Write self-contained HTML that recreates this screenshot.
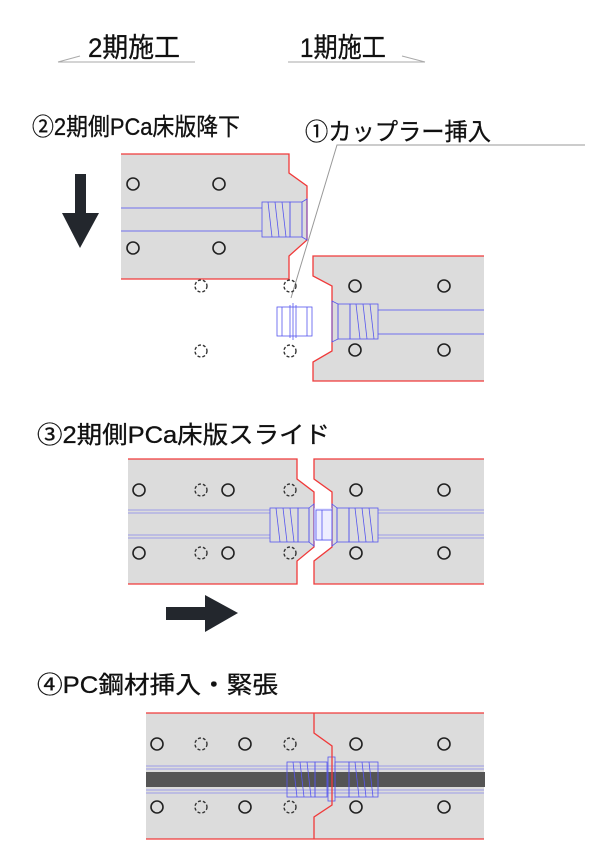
<!DOCTYPE html>
<html><head><meta charset="utf-8"><style>
html,body{margin:0;padding:0;background:#fff}
svg{display:block}
text{font-family:"Liberation Sans","Noto Sans CJK JP",sans-serif;fill:#111}
</style></head><body>
<svg width="600" height="866" viewBox="0 0 600 866" xmlns="http://www.w3.org/2000/svg">
<!-- headers -->
<text x="88" y="57" font-size="27" textLength="92" lengthAdjust="spacingAndGlyphs" stroke="#111" stroke-width="0.3">2期施工</text>
<text x="300" y="57" font-size="27" textLength="86" lengthAdjust="spacingAndGlyphs" stroke="#111" stroke-width="0.3">1期施工</text>
<polyline points="58,62 80,56" stroke="#aaa" fill="none"/>
<line x1="58" y1="62" x2="195" y2="62" stroke="#aaa"/>
<line x1="288" y1="62" x2="425" y2="62" stroke="#aaa"/>
<polyline points="402,56 425,62" stroke="#aaa" fill="none"/>

<text x="32" y="135" font-size="24" textLength="208" lengthAdjust="spacingAndGlyphs" stroke="#111" stroke-width="0.3">②2期側PCa床版降下</text>
<text x="305" y="140" font-size="24" textLength="186" lengthAdjust="spacingAndGlyphs" stroke="#111" stroke-width="0.3">①カップラー挿入</text>
<polyline points="291,298 337,145 585,145" stroke="#999" fill="none"/>

<!-- down arrow -->
<rect x="75" y="174" width="11" height="40" fill="#23272d"/>
<polygon points="62,213 99,213 80,248" fill="#23272d"/>

<!-- section 1 left slab -->
<polygon points="121,154 289,154 289,173 307,186 307,240 289,256 289,279 121,279" fill="#dcdcdc"/>
<polyline points="121,154 289,154 289,173 307,186 307,240 289,256 289,279 121,279" fill="none" stroke="#f03a3a" stroke-width="1.3"/>
<line x1="121" y1="208" x2="262" y2="208" stroke="#7070ee"/>
<line x1="121" y1="231" x2="262" y2="231" stroke="#7070ee"/>
<g fill="none" stroke="#222" stroke-width="1.6">
<circle cx="133" cy="184" r="6"/><circle cx="219" cy="184" r="6"/>
<circle cx="133" cy="248" r="6"/><circle cx="219" cy="248" r="6"/>
</g>
<g fill="none" stroke="#5555ee" stroke-width="0.8">
<rect x="262" y="202" width="28" height="35"/><rect x="290" y="202" width="12" height="35"/>
<polygon points="302,202 307,199 307,240 302,237"/>
<line x1="268" y1="202" x2="272" y2="237"/><line x1="275" y1="202" x2="279" y2="237"/><line x1="282" y1="202" x2="286" y2="237"/>
</g>
<!-- dashed circles -->
<g fill="none" stroke="#333" stroke-width="1.4" stroke-dasharray="3,2">
<circle cx="201" cy="286" r="6"/><circle cx="290" cy="286" r="6"/>
<circle cx="201" cy="351" r="6"/><circle cx="290" cy="351" r="6"/>
</g>
<!-- loose coupler -->
<g fill="none" stroke="#5555ee" stroke-width="0.8">
<rect x="277" y="307" width="35" height="29"/>
<line x1="282" y1="307" x2="282" y2="336"/><line x1="290" y1="305" x2="290" y2="338"/>
<line x1="293" y1="303" x2="293" y2="340"/><line x1="296" y1="305" x2="296" y2="338"/>
<line x1="307" y1="307" x2="307" y2="336"/>
</g>
<!-- section 1 right slab -->
<polygon points="313,256 484,256 484,381 313,381 313,362 332,351 332,286 313,276" fill="#dcdcdc"/>
<polyline points="484,256 313,256 313,276 332,286 332,351 313,362 313,381 484,381" fill="none" stroke="#f03a3a" stroke-width="1.3"/>
<line x1="378" y1="310" x2="484" y2="310" stroke="#7070ee"/>
<line x1="378" y1="334" x2="484" y2="334" stroke="#7070ee"/>
<g fill="none" stroke="#222" stroke-width="1.6">
<circle cx="355" cy="286" r="6"/><circle cx="444" cy="286" r="6"/>
<circle cx="355" cy="350" r="6"/><circle cx="444" cy="350" r="6"/>
</g>
<g fill="none" stroke="#5555ee" stroke-width="0.8">
<polygon points="332,301 338,304 338,339 332,342"/>
<rect x="338" y="304" width="12" height="35"/><rect x="350" y="304" width="28" height="35"/>
<line x1="356" y1="304" x2="360" y2="339"/><line x1="363" y1="304" x2="367" y2="339"/><line x1="370" y1="304" x2="374" y2="339"/>
</g>

<!-- section 2 -->
<text x="37" y="443" font-size="24" textLength="293" lengthAdjust="spacingAndGlyphs" stroke="#111" stroke-width="0.3">③2期側PCa床版スライド</text>
<polygon points="128,459 297,459 297,479 314,492 314,547 297,561 297,584 128,584" fill="#dcdcdc"/>
<polyline points="128,459 297,459 297,479 314,492 314,547 297,561 297,584 128,584" fill="none" stroke="#f03a3a" stroke-width="1.3"/>
<polygon points="314,459 484,459 484,584 314,584 314,561 332,547 332,492 314,479" fill="#dcdcdc"/>
<polyline points="484,459 314,459 314,479 332,492 332,547 314,561 314,584 484,584" fill="none" stroke="#f03a3a" stroke-width="1.3"/>
<g stroke="#8888ee" stroke-width="0.7">
<line x1="128" y1="510" x2="270" y2="510"/><line x1="128" y1="513" x2="270" y2="513"/>
<line x1="128" y1="535" x2="270" y2="535"/><line x1="128" y1="538" x2="270" y2="538"/>
<line x1="378" y1="510" x2="484" y2="510"/><line x1="378" y1="513" x2="484" y2="513"/>
<line x1="378" y1="535" x2="484" y2="535"/><line x1="378" y1="538" x2="484" y2="538"/>
</g>
<rect x="314" y="508" width="18" height="33" fill="#eeeeff"/>
<g fill="none" stroke="#5555ee" stroke-width="0.8">
<rect x="270" y="508" width="28" height="34"/><rect x="298" y="508" width="11" height="34"/>
<polygon points="309,508 314,504 314,546 309,542"/>
<line x1="276" y1="508" x2="280" y2="542"/><line x1="283" y1="508" x2="287" y2="542"/><line x1="290" y1="508" x2="294" y2="542"/>
<rect x="316" y="510" width="16" height="30"/><line x1="322" y1="510" x2="322" y2="540"/>
<polygon points="332,504 337,508 337,542 332,546"/>
<rect x="337" y="508" width="12" height="34"/><rect x="349" y="508" width="29" height="34"/>
<line x1="355" y1="508" x2="359" y2="542"/><line x1="362" y1="508" x2="366" y2="542"/><line x1="369" y1="508" x2="373" y2="542"/>
</g>
<g fill="none" stroke="#222" stroke-width="1.6">
<circle cx="139" cy="490" r="6"/><circle cx="228" cy="490" r="6"/><circle cx="356" cy="490" r="6"/><circle cx="444" cy="490" r="6"/>
<circle cx="139" cy="553" r="6"/><circle cx="228" cy="553" r="6"/><circle cx="356" cy="553" r="6"/><circle cx="444" cy="553" r="6"/>
</g>
<g fill="none" stroke="#333" stroke-width="1.4" stroke-dasharray="3,2">
<circle cx="201" cy="490" r="6"/><circle cx="290" cy="490" r="6"/>
<circle cx="201" cy="553" r="6"/><circle cx="290" cy="553" r="6"/>
</g>
<!-- right arrow -->
<rect x="166" y="607" width="41" height="13" fill="#23272d"/>
<polygon points="205,595 205,632 238,613" fill="#23272d"/>

<!-- section 3 -->
<text x="37" y="693" font-size="24" textLength="241" lengthAdjust="spacingAndGlyphs" stroke="#111" stroke-width="0.3">④PC鋼材挿入・緊張</text>
<rect x="146" y="713" width="338" height="126" fill="#dcdcdc"/>
<line x1="146" y1="713" x2="484" y2="713" stroke="#f03a3a" stroke-width="1.3"/>
<line x1="146" y1="839" x2="484" y2="839" stroke="#f03a3a" stroke-width="1.3"/>
<g stroke="#8888ee" stroke-width="0.7">
<line x1="146" y1="766" x2="484" y2="766"/><line x1="146" y1="769" x2="484" y2="769"/>
<line x1="146" y1="790" x2="484" y2="790"/><line x1="146" y1="793" x2="484" y2="793"/>
</g>
<rect x="146" y="772" width="339" height="15" fill="#555"/>
<g fill="none" stroke="#5555ee" stroke-width="0.8">
<rect x="287" y="762" width="28" height="35"/><rect x="315" y="762" width="12" height="35"/>
<line x1="293" y1="762" x2="297" y2="797"/><line x1="300" y1="762" x2="304" y2="797"/><line x1="307" y1="762" x2="311" y2="797"/>
<rect x="328" y="757" width="7" height="44"/>
<rect x="335" y="762" width="14" height="35"/><rect x="349" y="762" width="29" height="35"/>
<line x1="355" y1="762" x2="359" y2="797"/><line x1="362" y1="762" x2="366" y2="797"/><line x1="369" y1="762" x2="373" y2="797"/>
</g>
<polyline points="314,713 314,733 332,746 332,805 314,817 314,839" fill="none" stroke="#f03a3a" stroke-width="1.3"/>
<g fill="none" stroke="#222" stroke-width="1.6">
<circle cx="157" cy="744" r="6"/><circle cx="245" cy="744" r="6"/><circle cx="356" cy="744" r="6"/><circle cx="444" cy="744" r="6"/>
<circle cx="157" cy="807" r="6"/><circle cx="245" cy="807" r="6"/><circle cx="356" cy="807" r="6"/><circle cx="444" cy="807" r="6"/>
</g>
<g fill="none" stroke="#333" stroke-width="1.4" stroke-dasharray="3,2">
<circle cx="201" cy="744" r="6"/><circle cx="290" cy="744" r="6"/>
<circle cx="201" cy="807" r="6"/><circle cx="290" cy="807" r="6"/>
</g>
</svg>
</body></html>
